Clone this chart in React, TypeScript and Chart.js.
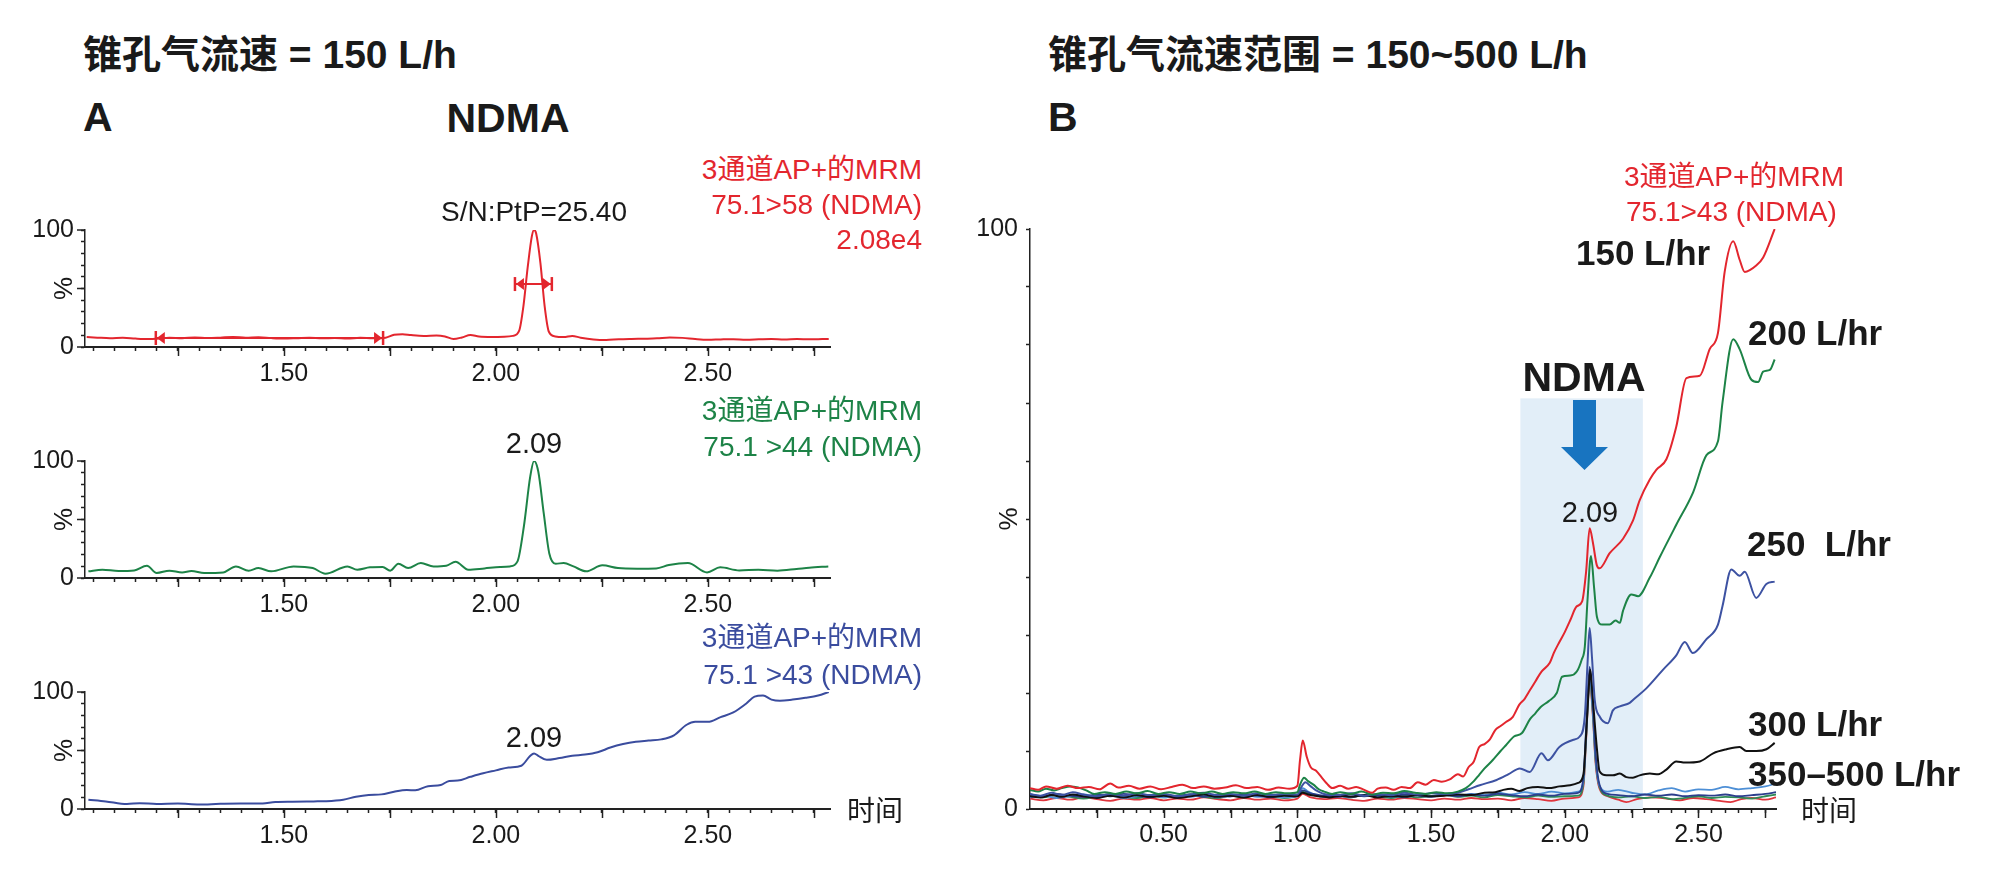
import React, { useEffect, useRef } from "react";
import { Chart, registerables } from "chart.js";
Chart.register(...registerables);

// ---------------- data ----------------
// Panel A1: 75.1>58 (red)
const A1_RED: [number, number][] = [
  [1.035, 8.5], [1.06, 8.0], [1.09, 7.5], [1.12, 7.9], [1.15, 7.2], [1.18, 6.8], [1.2, 7.0], [1.23, 7.8],
  [1.26, 7.5], [1.29, 8.2], [1.32, 7.6], [1.35, 8.0], [1.38, 8.6], [1.41, 7.9], [1.44, 8.3], [1.47, 7.6],
  [1.5, 7.2], [1.53, 7.5], [1.56, 7.9], [1.59, 7.4], [1.62, 7.7], [1.65, 7.3], [1.68, 7.8], [1.71, 7.5],
  [1.74, 8.0], [1.76, 10.5], [1.78, 11.0], [1.8, 10.2], [1.83, 9.5], [1.86, 9.8], [1.88, 9.0], [1.9, 6.8],
  [1.92, 8.2], [1.94, 10.3], [1.96, 9.0], [1.99, 8.6], [2.02, 8.8], [2.04, 9.5], [2.055, 14], [2.065, 35],
  [2.075, 68], [2.085, 95], [2.09, 100], [2.095, 97], [2.105, 72], [2.115, 35], [2.125, 13], [2.14, 9.0],
  [2.16, 8.5], [2.18, 9.5], [2.2, 8.0], [2.23, 6.5], [2.26, 6.0], [2.29, 6.6], [2.32, 6.9], [2.35, 7.1],
  [2.38, 7.4], [2.41, 8.2], [2.44, 7.8], [2.47, 6.8], [2.5, 6.2], [2.53, 6.5], [2.56, 6.7], [2.59, 6.3],
  [2.62, 6.6], [2.65, 6.9], [2.68, 6.5], [2.71, 6.8], [2.74, 6.6], [2.77, 6.8], [2.785, 6.9],
];
// S/N measurement intervals on A1: [start, end, level]
const A1_NOISE_INTERVAL: [number, number, number] = [1.198, 1.734, 7.7];
const A1_PEAK_INTERVAL: [number, number, number] = [2.045, 2.132, 53.8];

// Panel A2: 75.1>44 (green)
const A2_GREEN: [number, number][] = [
  [1.039, 5.7], [1.072, 7.1], [1.11, 6.0], [1.147, 6.5], [1.177, 10.5], [1.2, 4.3], [1.23, 6.3], [1.26, 4.8],
  [1.282, 6.0], [1.312, 4.3], [1.357, 4.8], [1.387, 9.9], [1.417, 6.3], [1.44, 8.5], [1.47, 5.7], [1.523, 9.9],
  [1.568, 8.5], [1.598, 3.7], [1.65, 9.9], [1.673, 7.1], [1.703, 9.1], [1.733, 9.4], [1.751, 6.3], [1.77, 12.2],
  [1.793, 8.5], [1.823, 12.8], [1.853, 9.9], [1.883, 10.5], [1.905, 13.9], [1.935, 7.1], [1.973, 8.2], [2.01, 9.4],
  [2.033, 9.9], [2.051, 14.2], [2.066, 44], [2.081, 86.6], [2.09, 100], [2.1, 91], [2.113, 55], [2.126, 21],
  [2.141, 12.2], [2.16, 12.8], [2.183, 9.9], [2.213, 5.7], [2.251, 10.8], [2.288, 8.5], [2.333, 8.0], [2.378, 8.2],
  [2.408, 11.1], [2.453, 12.8], [2.498, 4.8], [2.529, 9.1], [2.574, 6.5], [2.619, 7.1], [2.664, 6.3], [2.709, 7.7],
  [2.739, 8.8], [2.784, 9.9],
];

// Panel A3: 75.1>43 (blue)
const A3_BLUE: [number, number][] = [
  [1.039, 8.0], [1.08, 6.5], [1.13, 4.2], [1.16, 5.0], [1.2, 4.3], [1.25, 4.6], [1.3, 3.8], [1.35, 4.4],
  [1.4, 4.6], [1.45, 4.8], [1.48, 6.0], [1.52, 6.2], [1.57, 6.5], [1.6, 6.7], [1.64, 8.0], [1.67, 10.5],
  [1.7, 12.0], [1.73, 12.5], [1.76, 14.8], [1.79, 16.2], [1.81, 16.0], [1.84, 19.5], [1.87, 20.5], [1.89, 24.0],
  [1.91, 24.3], [1.94, 27.5], [1.97, 30.5], [2.0, 33.0], [2.03, 35.5], [2.06, 37.0], [2.08, 45.0], [2.09, 47.5],
  [2.1, 45.5], [2.12, 42.0], [2.15, 43.5], [2.18, 45.5], [2.21, 46.5], [2.24, 48.5], [2.27, 52.5], [2.3, 55.5],
  [2.33, 57.5], [2.36, 58.5], [2.39, 59.5], [2.42, 63.0], [2.45, 72.0], [2.47, 74.5], [2.5, 74.5], [2.53, 78.5],
  [2.56, 82.5], [2.59, 90.0], [2.61, 96.0], [2.63, 97.0], [2.65, 93.5], [2.67, 92.5], [2.7, 93.5], [2.73, 95.0],
  [2.76, 97.0], [2.785, 100],
];

// Panel B: cone gas flow series
const B_150: [number, number][] = [
  [0.0, 3.6], [0.03, 3.3], [0.06, 3.9], [0.1, 3.5], [0.14, 4.0], [0.18, 3.6], [0.22, 3.8], [0.26, 3.4],
  [0.3, 4.4], [0.33, 3.7], [0.37, 4.0], [0.41, 3.5], [0.45, 3.9], [0.49, 3.4], [0.53, 3.8], [0.57, 4.2],
  [0.61, 3.6], [0.65, 3.9], [0.69, 3.5], [0.73, 3.7], [0.77, 4.1], [0.81, 3.6], [0.85, 3.8], [0.89, 3.3],
  [0.93, 3.7], [0.97, 3.5], [1.0, 4.0], [1.01, 8.5], [1.02, 11.8], [1.035, 9.0], [1.05, 7.2], [1.07, 6.6],
  [1.09, 5.5], [1.11, 4.4], [1.13, 3.6], [1.16, 4.0], [1.19, 3.5], [1.22, 3.8], [1.25, 3.3], [1.28, 2.8],
  [1.3, 3.5], [1.33, 3.7], [1.36, 3.3], [1.39, 3.8], [1.42, 3.6], [1.45, 4.6], [1.48, 4.2], [1.51, 5.0],
  [1.54, 4.7], [1.57, 5.1], [1.6, 6.0], [1.62, 5.6], [1.64, 7.2], [1.66, 8.2], [1.68, 10.7], [1.7, 11.2],
  [1.72, 12.0], [1.74, 13.6], [1.76, 14.3], [1.78, 15.0], [1.806, 15.9], [1.83, 18.0], [1.85, 19.0], [1.87, 20.5],
  [1.89, 22.0], [1.913, 23.7], [1.944, 25.2], [1.96, 27.0], [1.98, 28.8], [2.0, 30.5], [2.02, 32.5], [2.044, 34.9],
  [2.065, 35.8], [2.08, 41.0], [2.093, 48.4], [2.105, 46.0], [2.12, 42.0], [2.13, 41.5], [2.168, 44.1], [2.218, 46.6],
  [2.255, 49.7], [2.28, 53.2], [2.318, 56.8], [2.343, 58.5], [2.38, 60.3], [2.417, 65.9], [2.455, 74.3], [2.505, 74.7],
  [2.542, 79.3], [2.573, 82.1], [2.598, 92.6], [2.63, 97.9], [2.654, 94.7], [2.673, 92.6], [2.716, 93.7], [2.742, 95.1],
  [2.785, 100],
];
const B_200: [number, number][] = [
  [0.0, 3.3], [0.03, 3.0], [0.06, 3.5], [0.09, 3.2], [0.12, 3.6], [0.15, 3.9], [0.18, 3.7], [0.21, 3.2],
  [0.24, 2.6], [0.28, 2.9], [0.32, 2.6], [0.36, 3.0], [0.4, 2.7], [0.44, 3.1], [0.48, 2.6], [0.52, 2.9],
  [0.56, 2.6], [0.6, 3.0], [0.64, 2.7], [0.68, 3.0], [0.72, 2.6], [0.76, 2.9], [0.8, 2.7], [0.84, 3.0],
  [0.88, 2.6], [0.92, 2.9], [0.96, 2.7], [1.0, 2.9], [1.01, 4.2], [1.025, 5.4], [1.04, 4.8], [1.06, 4.2],
  [1.08, 3.4], [1.1, 3.0], [1.13, 2.6], [1.16, 2.9], [1.2, 2.6], [1.24, 3.0], [1.28, 2.5], [1.32, 2.8],
  [1.36, 2.7], [1.4, 3.1], [1.44, 2.8], [1.48, 2.6], [1.52, 2.9], [1.56, 2.7], [1.6, 3.0], [1.63, 3.6],
  [1.66, 4.8], [1.68, 5.9], [1.7, 7.0], [1.73, 8.4], [1.76, 10.0], [1.78, 11.0], [1.81, 12.5], [1.84, 13.1],
  [1.87, 15.5], [1.89, 16.5], [1.91, 17.6], [1.94, 18.6], [1.97, 20.0], [1.99, 22.8], [2.02, 23.0], [2.045, 23.7],
  [2.063, 25.7], [2.075, 28.0], [2.085, 36.0], [2.098, 43.6], [2.11, 38.0], [2.12, 33.2], [2.14, 31.8], [2.168, 31.8],
  [2.19, 32.5], [2.206, 32.1], [2.218, 34.2], [2.249, 37.0], [2.274, 36.7], [2.318, 39.9], [2.355, 43.4], [2.417, 49.0],
  [2.48, 54.6], [2.53, 61.0], [2.573, 63.4], [2.59, 70.1], [2.63, 81.0], [2.654, 79.3], [2.698, 74.0], [2.723, 73.6],
  [2.742, 75.4], [2.767, 75.7], [2.785, 77.5],
];
const B_250: [number, number][] = [
  [0.0, 2.6], [0.04, 2.3], [0.08, 2.8], [0.12, 2.4], [0.16, 2.9], [0.2, 2.5], [0.25, 2.2], [0.3, 2.6],
  [0.35, 2.3], [0.4, 2.7], [0.45, 2.4], [0.5, 2.6], [0.55, 2.2], [0.6, 2.5], [0.65, 2.8], [0.7, 2.4],
  [0.75, 2.6], [0.8, 2.3], [0.85, 2.7], [0.9, 2.4], [0.95, 2.6], [1.0, 2.5], [1.015, 3.8], [1.03, 4.6],
  [1.05, 3.9], [1.07, 3.2], [1.1, 2.6], [1.15, 2.4], [1.2, 2.7], [1.25, 2.3], [1.3, 2.6], [1.35, 2.4],
  [1.4, 2.8], [1.45, 2.5], [1.5, 2.7], [1.55, 2.6], [1.6, 2.8], [1.64, 3.4], [1.682, 4.1], [1.745, 5.0],
  [1.79, 6.0], [1.832, 7.0], [1.869, 6.4], [1.913, 9.6], [1.937, 8.4], [1.98, 10.7], [2.03, 11.9], [2.056, 12.5],
  [2.075, 16.0], [2.085, 25.0], [2.093, 31.2], [2.102, 26.0], [2.112, 18.8], [2.131, 15.9], [2.161, 14.8], [2.18, 17.0],
  [2.206, 17.7], [2.243, 18.3], [2.255, 18.8], [2.305, 20.8], [2.367, 24.0], [2.417, 26.5], [2.449, 28.8], [2.479, 26.9],
  [2.53, 29.3], [2.573, 31.8], [2.59, 35.0], [2.623, 41.3], [2.654, 40.2], [2.673, 40.9], [2.716, 36.4], [2.754, 38.8],
  [2.785, 39.2],
];
const B_300: [number, number][] = [
  [0.0, 2.2], [0.04, 2.0], [0.08, 2.4], [0.12, 2.1], [0.16, 2.5], [0.2, 2.2], [0.25, 1.9], [0.3, 2.3],
  [0.35, 2.0], [0.4, 2.4], [0.45, 2.1], [0.5, 2.3], [0.55, 1.9], [0.6, 2.2], [0.65, 2.5], [0.7, 2.1],
  [0.75, 2.3], [0.8, 2.0], [0.85, 2.4], [0.9, 2.1], [0.95, 2.3], [1.0, 2.2], [1.02, 2.8], [1.04, 2.5],
  [1.08, 2.2], [1.12, 2.0], [1.16, 2.3], [1.2, 2.1], [1.25, 2.4], [1.3, 2.0], [1.35, 2.3], [1.4, 2.1],
  [1.45, 2.4], [1.5, 2.2], [1.55, 2.3], [1.6, 2.5], [1.65, 2.4], [1.7, 2.8], [1.74, 2.9], [1.77, 3.3],
  [1.8, 3.5], [1.83, 3.1], [1.86, 3.6], [1.9, 3.8], [1.94, 3.6], [1.98, 3.9], [2.02, 4.1], [2.05, 4.5],
  [2.07, 6.0], [2.08, 13.0], [2.09, 21.0], [2.095, 24.0], [2.1, 22.0], [2.11, 16.0], [2.12, 10.5], [2.13, 6.5],
  [2.156, 5.8], [2.18, 5.8], [2.206, 6.1], [2.23, 5.5], [2.255, 5.4], [2.28, 5.8], [2.318, 6.1], [2.35, 6.0],
  [2.38, 6.8], [2.417, 8.2], [2.45, 8.0], [2.505, 8.2], [2.555, 9.6], [2.605, 10.3], [2.654, 10.7], [2.679, 10.0],
  [2.716, 10.0], [2.754, 10.3], [2.785, 11.4],
];
const B_350: [number, number][] = [
  [0.0, 2.0], [0.05, 2.3], [0.1, 1.9], [0.15, 2.2], [0.2, 2.5], [0.25, 2.1], [0.3, 2.3], [0.35, 1.9],
  [0.4, 2.2], [0.45, 2.4], [0.5, 2.0], [0.55, 2.3], [0.6, 2.1], [0.65, 2.4], [0.7, 2.0], [0.75, 2.2],
  [0.8, 2.5], [0.85, 2.1], [0.9, 2.3], [0.95, 2.0], [1.0, 2.2], [1.02, 3.6], [1.04, 3.0], [1.07, 2.4],
  [1.1, 2.1], [1.15, 2.3], [1.2, 2.0], [1.25, 2.4], [1.3, 2.1], [1.35, 2.3], [1.4, 2.0], [1.45, 2.4],
  [1.5, 2.2], [1.55, 2.5], [1.6, 2.3], [1.65, 2.6], [1.7, 2.4], [1.75, 2.8], [1.8, 2.5], [1.85, 2.9],
  [1.9, 2.6], [1.95, 3.0], [2.0, 2.7], [2.05, 3.0], [2.07, 5.0], [2.08, 13.0], [2.093, 23.0], [2.105, 17.0],
  [2.115, 9.0], [2.13, 4.0], [2.16, 3.0], [2.2, 3.3], [2.25, 2.8], [2.3, 2.5], [2.35, 3.2], [2.4, 3.6],
  [2.45, 3.0], [2.5, 3.4], [2.55, 3.3], [2.6, 3.8], [2.65, 3.4], [2.7, 3.6], [2.75, 3.9], [2.79, 4.4],
];
const B_400: [number, number][] = [
  [0.0, 1.8], [0.05, 1.5], [0.1, 1.9], [0.15, 1.6], [0.2, 2.0], [0.25, 1.7], [0.3, 1.4], [0.35, 1.8],
  [0.4, 1.6], [0.45, 1.9], [0.5, 1.5], [0.55, 1.8], [0.6, 1.6], [0.65, 2.0], [0.7, 1.7], [0.75, 1.5],
  [0.8, 1.9], [0.85, 1.6], [0.9, 1.8], [0.95, 1.5], [1.0, 1.8], [1.02, 2.6], [1.05, 2.0], [1.1, 1.7],
  [1.15, 1.9], [1.2, 1.6], [1.25, 1.4], [1.3, 1.8], [1.35, 1.6], [1.4, 1.9], [1.45, 1.7], [1.5, 1.5],
  [1.55, 1.8], [1.6, 1.6], [1.65, 1.9], [1.7, 1.7], [1.75, 1.8], [1.8, 1.5], [1.85, 1.9], [1.9, 1.7],
  [1.95, 1.4], [2.0, 1.8], [2.05, 2.0], [2.07, 4.0], [2.08, 12.0], [2.093, 22.0], [2.105, 16.0], [2.115, 8.0],
  [2.13, 3.5], [2.16, 2.2], [2.2, 1.6], [2.23, 1.2], [2.27, 1.7], [2.32, 2.0], [2.38, 1.8], [2.43, 1.5],
  [2.48, 1.9], [2.53, 1.7], [2.58, 1.4], [2.62, 1.2], [2.66, 1.7], [2.7, 1.9], [2.75, 1.6], [2.79, 2.0],
];
const B_450: [number, number][] = [
  [0.0, 2.3], [0.05, 2.0], [0.1, 2.4], [0.15, 2.1], [0.2, 1.8], [0.25, 2.2], [0.3, 2.5], [0.35, 2.1],
  [0.4, 1.9], [0.45, 2.3], [0.5, 2.0], [0.55, 2.2], [0.6, 2.5], [0.65, 2.1], [0.7, 1.9], [0.75, 2.3],
  [0.8, 2.0], [0.85, 2.4], [0.9, 2.1], [0.95, 1.9], [1.0, 2.2], [1.02, 3.0], [1.05, 2.5], [1.1, 2.1],
  [1.15, 2.3], [1.2, 2.0], [1.25, 2.4], [1.3, 2.1], [1.35, 1.9], [1.4, 2.3], [1.45, 2.0], [1.5, 2.2],
  [1.55, 2.4], [1.6, 2.1], [1.65, 2.3], [1.7, 2.0], [1.75, 2.4], [1.8, 2.2], [1.85, 2.0], [1.9, 2.3],
  [1.95, 2.1], [2.0, 2.2], [2.05, 2.3], [2.07, 4.5], [2.08, 12.5], [2.093, 22.5], [2.105, 16.5], [2.115, 8.5],
  [2.13, 3.8], [2.16, 2.3], [2.2, 2.0], [2.25, 2.2], [2.3, 1.9], [2.35, 2.1], [2.4, 1.7], [2.45, 1.9],
  [2.5, 2.2], [2.55, 1.9], [2.6, 2.1], [2.65, 2.0], [2.7, 1.8], [2.75, 2.2], [2.79, 2.5],
];
const B_500: [number, number][] = [
  [0.0, 2.5], [0.05, 2.2], [0.1, 2.6], [0.15, 2.3], [0.2, 2.1], [0.25, 2.5], [0.3, 2.2], [0.35, 2.6],
  [0.4, 2.3], [0.45, 2.0], [0.5, 2.4], [0.55, 2.2], [0.6, 2.5], [0.65, 2.1], [0.7, 2.4], [0.75, 2.2],
  [0.8, 2.6], [0.85, 2.3], [0.9, 2.0], [0.95, 2.4], [1.0, 2.3], [1.02, 3.2], [1.05, 2.7], [1.1, 2.3],
  [1.15, 2.1], [1.2, 2.5], [1.25, 2.2], [1.3, 2.4], [1.35, 2.1], [1.4, 2.5], [1.45, 2.3], [1.5, 2.1],
  [1.55, 2.4], [1.6, 2.2], [1.65, 2.5], [1.7, 2.3], [1.75, 2.6], [1.8, 2.4], [1.85, 2.2], [1.9, 2.5],
  [1.95, 2.3], [2.0, 2.6], [2.05, 2.8], [2.07, 5.5], [2.08, 14.0], [2.093, 24.5], [2.105, 18.0], [2.115, 9.5],
  [2.13, 4.2], [2.16, 2.6], [2.2, 2.4], [2.25, 2.2], [2.3, 2.5], [2.35, 2.3], [2.4, 2.5], [2.45, 2.2],
  [2.5, 2.4], [2.55, 2.3], [2.6, 2.5], [2.65, 2.2], [2.7, 2.4], [2.75, 2.6], [2.79, 2.9],
];
// NDMA retention window highlighted in panel B: [start, end, top %]
const B_NDMA_WINDOW: [number, number, number] = [1.834, 2.292, 70.8];

// Axis ticks
const A_RANGE: [number, number] = [1.031, 2.788];
const B_RANGE: [number, number] = [0, 2.79];
const A_TICK_LABELS = [1.5, 2.0, 2.5];
const B_TICK_LABELS = [0.5, 1.0, 1.5, 2.0, 2.5];
const A_QUARTER_TICKS = [1.25, 1.5, 1.75, 2.0, 2.25, 2.5, 2.75];
const B_QUARTER_TICKS = [0.25, 0.5, 0.75, 1.0, 1.25, 1.5, 1.75, 2.0, 2.25, 2.5, 2.75];
const MINOR_STEP = 0.05;
const Y_LABELS = [0, 100];

// ---------------- styling ----------------
const FONT = '"Liberation Sans", Arial, "Noto Sans CJK SC", sans-serif';
const RED = "#e3262e";
const GREEN = "#1d8347";
const BLUE = "#3a4c9e";
const INK = "#1a1a1a";

function minorTicks(lo: number, hi: number): number[] {
  const out: number[] = [];
  const start = Math.ceil((lo + 1e-6) / MINOR_STEP);
  for (let i = start; i * MINOR_STEP <= hi + 1e-9; i++) out.push(+(i * MINOR_STEP).toFixed(2));
  return out;
}

const decorPlugin: any = {
  id: "decor",
  beforeDatasetsDraw(chart: any, _a: any, opts: any) {
    const band = opts && opts.band;
    if (!band) return;
    const { ctx } = chart;
    const xs = chart.scales.x, ys = chart.scales.y;
    const x0 = xs.getPixelForValue(band[0]);
    const x1 = xs.getPixelForValue(band[1]);
    const yTop = ys.getPixelForValue(band[2]);
    const yBot = ys.getPixelForValue(0);
    ctx.save();
    ctx.fillStyle = opts.bandColor;
    ctx.fillRect(x0, yTop, x1 - x0, yBot - yTop);
    ctx.restore();
  },
  afterDraw(chart: any, _a: any, opts: any) {
    const { ctx, chartArea } = chart;
    const xs = chart.scales.x, ys = chart.scales.y;
    ctx.save();
    ctx.strokeStyle = "#222";
    ctx.lineWidth = 1.5;
    (opts.longX || []).forEach((v: number) => {
      const px = Math.round(xs.getPixelForValue(v)) + 0.5;
      ctx.beginPath();
      ctx.moveTo(px, chartArea.bottom);
      ctx.lineTo(px, chartArea.bottom + opts.longLenX);
      ctx.stroke();
    });
    (opts.longY || []).forEach((v: number) => {
      const py = ys.getPixelForValue(v);
      ctx.beginPath();
      ctx.moveTo(chartArea.left, py);
      ctx.lineTo(chartArea.left - opts.longLenY, py);
      ctx.stroke();
    });
    if (opts.yTitle) {
      ctx.save();
      ctx.translate(chartArea.left - opts.yTitleOffset, (chartArea.top + chartArea.bottom) / 2);
      ctx.rotate(-Math.PI / 2);
      ctx.font = `26px ${FONT}`;
      ctx.fillStyle = INK;
      ctx.textAlign = "center";
      ctx.textBaseline = "middle";
      ctx.fillText(opts.yTitle, 0, 0);
      ctx.restore();
    }
    (opts.intervals || []).forEach((iv: [number, number, number]) => {
      const xa = xs.getPixelForValue(iv[0]);
      const xb = xs.getPixelForValue(iv[1]);
      const yy = ys.getPixelForValue(iv[2]);
      ctx.strokeStyle = opts.intervalColor;
      ctx.fillStyle = opts.intervalColor;
      ctx.lineWidth = 2;
      ctx.beginPath();
      ctx.moveTo(xa, yy);
      ctx.lineTo(xb, yy);
      ctx.stroke();
      ctx.lineWidth = 2.5;
      [xa, xb].forEach((x) => {
        ctx.beginPath();
        ctx.moveTo(x, yy - 7);
        ctx.lineTo(x, yy + 7);
        ctx.stroke();
      });
      ctx.beginPath();
      ctx.moveTo(xa + 1, yy);
      ctx.lineTo(xa + 9, yy - 6);
      ctx.lineTo(xa + 9, yy + 6);
      ctx.closePath();
      ctx.fill();
      ctx.beginPath();
      ctx.moveTo(xb - 1, yy);
      ctx.lineTo(xb - 9, yy - 6);
      ctx.lineTo(xb - 9, yy + 6);
      ctx.closePath();
      ctx.fill();
    });
    ctx.restore();
  },
};

function series(pts: [number, number][], color: string, width = 2) {
  return {
    data: pts.map(([x, y]) => ({ x, y })),
    borderColor: color,
    borderWidth: width,
    pointRadius: 0,
    cubicInterpolationMode: "monotone",
    fill: false,
  };
}

type Cfg = {
  datasets: any[];
  range: [number, number];
  labels: number[];
  quarter: number[];
  padding: any;
  yWidth: number;
  xHeight: number;
  xPad: number;
  yPad: number;
  xBorder: number;
  decor: any;
};

function makeConfig(c: Cfg): any {
  const ticks = minorTicks(c.range[0], c.range[1]);
  const font = { family: FONT, size: 25 };
  return {
    type: "line",
    data: { datasets: c.datasets },
    plugins: [decorPlugin],
    options: {
      animation: false,
      responsive: false,
      maintainAspectRatio: false,
      devicePixelRatio: 1,
      events: [],
      layout: { padding: c.padding },
      plugins: {
        legend: { display: false },
        tooltip: { enabled: false },
        decor: c.decor,
      },
      scales: {
        x: {
          type: "linear",
          min: c.range[0],
          max: c.range[1],
          afterBuildTicks: (s: any) => {
            s.ticks = ticks.map((v) => ({ value: v }));
          },
          afterFit: (s: any) => {
            s.height = c.xHeight;
          },
          ticks: {
            autoSkip: false,
            maxRotation: 0,
            minRotation: 0,
            padding: c.xPad,
            color: INK,
            font,
            callback: (v: number) => (c.labels.some((l) => Math.abs(l - v) < 1e-6) ? Number(v).toFixed(2) : ""),
          },
          grid: { display: true, drawOnChartArea: false, drawTicks: true, tickLength: 4, tickColor: "#222", tickWidth: 1.5 },
          border: { display: true, color: "#222", width: c.xBorder },
        },
        y: {
          type: "linear",
          min: 0,
          max: 100,
          afterFit: (s: any) => {
            s.width = c.yWidth;
          },
          ticks: {
            stepSize: 10,
            autoSkip: false,
            padding: c.yPad,
            color: INK,
            font,
            callback: (v: number) => (Y_LABELS.includes(v) ? String(v) : ""),
          },
          grid: { display: true, drawOnChartArea: false, drawTicks: true, tickLength: 4, tickColor: "#222", tickWidth: 1.5 },
          border: { display: true, color: "#222", width: 1.5 },
        },
      },
    },
  };
}

function ChartBox(props: { left: number; top: number; width: number; height: number; cfg: () => any }) {
  const ref = useRef<HTMLCanvasElement>(null);
  useEffect(() => {
    const chart = new Chart(ref.current as HTMLCanvasElement, props.cfg());
    return () => chart.destroy();
  }, []);
  return (
    <canvas
      ref={ref}
      width={props.width}
      height={props.height}
      style={{ position: "absolute", left: props.left, top: props.top, width: props.width, height: props.height }}
    />
  );
}

function T(props: { x: number; y: number; align?: "left" | "center" | "right"; size: number; bold?: boolean; color?: string; children: any }) {
  const a = props.align || "left";
  const tx = a === "left" ? "0" : a === "center" ? "-50%" : "-100%";
  return (
    <div
      style={{
        position: "absolute",
        left: props.x,
        top: props.y,
        transform: `translate(${tx}, -50%)`,
        fontSize: props.size,
        fontWeight: props.bold ? 700 : 400,
        color: props.color || INK,
        whiteSpace: "pre",
        lineHeight: 1,
        fontFamily: FONT,
      }}
    >
      {props.children}
    </div>
  );
}

const aDecor = (extra: any = {}) => ({
  longX: A_QUARTER_TICKS,
  longLenX: 9,
  longY: [0, 50, 100],
  longLenY: 8,
  yTitle: "%",
  yTitleOffset: 20,
  ...extra,
});

const aCfg = (datasets: any[], extra: any = {}) => () =>
  makeConfig({
    datasets,
    range: A_RANGE,
    labels: A_TICK_LABELS,
    quarter: A_QUARTER_TICKS,
    padding: { left: 0, top: 30, right: 130, bottom: 0 },
    yWidth: 85,
    xHeight: 53,
    xPad: 8,
    yPad: 7,
    xBorder: 2,
    decor: aDecor(extra),
  });

const bCfg = () =>
  makeConfig({
    datasets: [
      series(B_150, RED, 2),
      series(B_200, GREEN, 2),
      series(B_250, "#3d52a2", 2),
      series(B_300, "#111111", 2),
      series(B_500, "#2c3e8c", 1.8),
      series(B_350, "#4d8fd6", 1.8),
      series(B_450, "#2f8a55", 1.8),
      series(B_400, "#e0353d", 1.8),
    ],
    range: B_RANGE,
    labels: B_TICK_LABELS,
    quarter: B_QUARTER_TICKS,
    padding: { left: 0, top: 29, right: 224, bottom: 0 },
    yWidth: 70,
    xHeight: 71,
    xPad: 7,
    yPad: 8,
    xBorder: 2,
    decor: {
      longX: B_QUARTER_TICKS,
      longLenX: 9,
      longY: [],
      longLenY: 5,
      yTitle: "%",
      yTitleOffset: 20,
      band: B_NDMA_WINDOW,
      bandColor: "#e2eef8",
    },
  });

export default function App() {
  return (
    <div style={{ position: "absolute", left: 0, top: 0, width: 2000, height: 895, background: "#fff", overflow: "hidden" }}>
      <ChartBox left={0} top={200} width={960} height={200} cfg={aCfg([series(A1_RED, RED, 2)], { intervals: [A1_NOISE_INTERVAL, A1_PEAK_INTERVAL], intervalColor: RED })} />
      <ChartBox left={0} top={431} width={960} height={200} cfg={aCfg([series(A2_GREEN, GREEN, 2)])} />
      <ChartBox left={0} top={662} width={960} height={200} cfg={aCfg([series(A3_BLUE, BLUE, 2)])} />
      <ChartBox left={960} top={200} width={1040} height={680} cfg={bCfg} />

      <T x={83} y={54} size={39} bold>锥孔气流速 = 150 L/h</T>
      <T x={1048} y={54} size={39} bold>锥孔气流速范围 = 150~500 L/h</T>
      <T x={83} y={117} size={41} bold>A</T>
      <T x={1048} y={117} size={41} bold>B</T>
      <T x={508} y={118} size={41} bold align="center">NDMA</T>

      <T x={922} y={170} size={28} align="right" color={RED}>3通道AP+的MRM</T>
      <T x={922} y={205} size={28} align="right" color={RED}>75.1&gt;58 (NDMA)</T>
      <T x={922} y={240} size={28} align="right" color={RED}>2.08e4</T>
      <T x={534} y={212} size={28} align="center">S/N:PtP=25.40</T>

      <T x={922} y={411} size={28} align="right" color={GREEN}>3通道AP+的MRM</T>
      <T x={922} y={447} size={28} align="right" color={GREEN}>75.1 &gt;44 (NDMA)</T>
      <T x={534} y={443} size={29} align="center">2.09</T>

      <T x={922} y={638} size={28} align="right" color={BLUE}>3通道AP+的MRM</T>
      <T x={922} y={675} size={28} align="right" color={BLUE}>75.1 &gt;43 (NDMA)</T>
      <T x={534} y={737} size={29} align="center">2.09</T>
      <T x={875} y={812} size={28} align="center">时间</T>

      <T x={1584} y={377} size={41} bold align="center">NDMA</T>
      <svg width={2000} height={895} style={{ position: "absolute", left: 0, top: 0, pointerEvents: "none" }}>
        <polygon points="1573,400 1596,400 1596,447 1608,447 1584.5,470 1561,447 1573,447" fill="#1874c0" />
      </svg>
      <T x={1590} y={512} size={29} align="center">2.09</T>
      <T x={1624} y={177} size={28} color={RED}>3通道AP+的MRM</T>
      <T x={1626} y={212} size={28} color={RED}>75.1&gt;43 (NDMA)</T>
      <T x={1576} y={252} size={35} bold>150 L/hr</T>
      <T x={1748} y={332} size={35} bold>200 L/hr</T>
      <T x={1747} y={543} size={35} bold>{"250  L/hr"}</T>
      <T x={1748} y={723} size={35} bold>300 L/hr</T>
      <T x={1748} y={773} size={35} bold>350–500 L/hr</T>
      <T x={1829} y={812} size={28} align="center">时间</T>
    </div>
  );
}
